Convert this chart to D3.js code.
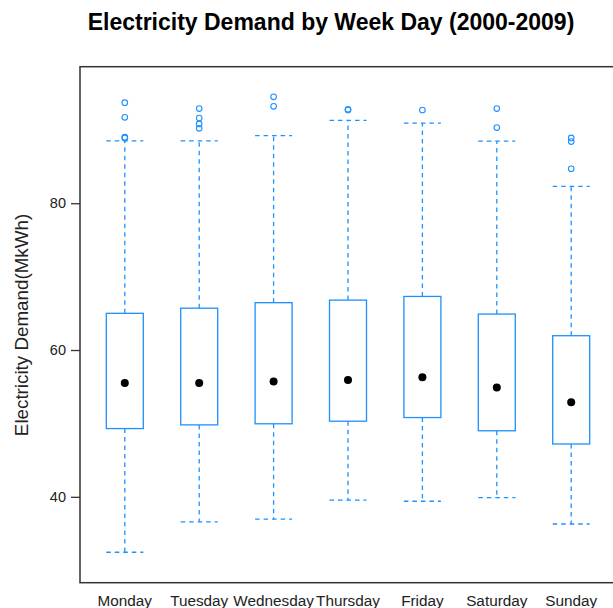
<!DOCTYPE html>
<html>
<head>
<meta charset="utf-8">
<script src="https://cdn.jsdelivr.net/npm/d3@7"></script>
<style>
  body { margin: 0; background: #fff; }
  svg { display: block; font-family: "Liberation Sans", Arial, sans-serif; }
</style>
</head>
<body>
<div id="main"></div>
<script>
var width = 613,
    height = 608;

// data
var days = ["Monday", "Tuesday", "Wednesday", "Thursday", "Friday", "Saturday", "Sunday"];
var whiskerLow  = [32.45, 36.6, 36.95, 39.55, 39.4, 39.9, 36.3];
var q1          = [49.3, 49.8, 49.95, 50.3, 50.8, 49.0, 47.2];
var q3          = [65.0, 65.7, 66.45, 66.8, 67.3, 64.9, 61.95];
var whiskerHigh = [88.5, 88.5, 89.2, 91.3, 90.9, 88.45, 82.3];
var means       = [55.5, 55.5, 55.7, 55.9, 56.3, 54.9, 52.9];
var outliers = [
  [93.7, 91.7, 89.0, 88.9],
  [92.9, 91.6, 90.8, 90.2],
  [94.5, 93.2],
  [92.8, 92.7],
  [92.7],
  [92.9, 90.3],
  [88.9, 88.4, 84.7]
];
var yTicks = [40, 60, 80];

var blue = "#1E90FF";

var plot = { left: 80, right: 616, top: 66.7, bottom: 582.7 };

var x = d3.scalePoint()
    .domain(days)
    .range([124.8, 571.2]);

var y = d3.scaleLinear()
    .domain([28.3, 98.6])
    .range([plot.bottom, plot.top]);

var boxW = 37;

var svg = d3.select("#main").append("svg")
    .attr("width", width)
    .attr("height", height);

// title
svg.append("text")
    .attr("x", 331)
    .attr("y", 30)
    .attr("text-anchor", "middle")
    .style("font-size", "23px")
    .style("font-weight", "bold")
    .text("Electricity Demand by Week Day (2000-2009)");

var rows = days.map(function(d, i) {
  return { day: d, lo: whiskerLow[i], q1: q1[i], q3: q3[i], hi: whiskerHigh[i], mean: means[i], out: outliers[i] };
});

var g = svg.selectAll("g.box")
    .data(rows)
    .enter()
    .append("g")
    .attr("class", "box");

// whiskers (dashed)
g.append("line")
    .attr("x1", function(d) { return x(d.day); })
    .attr("x2", function(d) { return x(d.day); })
    .attr("y1", function(d) { return y(d.q3); })
    .attr("y2", function(d) { return y(d.hi); });
g.append("line")
    .attr("x1", function(d) { return x(d.day); })
    .attr("x2", function(d) { return x(d.day); })
    .attr("y1", function(d) { return y(d.q1); })
    .attr("y2", function(d) { return y(d.lo); });
// staples
g.append("line")
    .attr("x1", function(d) { return x(d.day) - boxW / 2; })
    .attr("x2", function(d) { return x(d.day) + boxW / 2; })
    .attr("y1", function(d) { return y(d.hi); })
    .attr("y2", function(d) { return y(d.hi); });
g.append("line")
    .attr("x1", function(d) { return x(d.day) - boxW / 2; })
    .attr("x2", function(d) { return x(d.day) + boxW / 2; })
    .attr("y1", function(d) { return y(d.lo); })
    .attr("y2", function(d) { return y(d.lo); });
g.selectAll("line")
    .attr("stroke", blue)
    .attr("stroke-width", 1.3)
    .attr("stroke-dasharray", "4.5,4");

// boxes
g.append("rect")
    .attr("x", function(d) { return x(d.day) - boxW / 2; })
    .attr("y", function(d) { return y(d.q3); })
    .attr("width", boxW)
    .attr("height", function(d) { return y(d.q1) - y(d.q3); })
    .attr("fill", "#fff")
    .attr("stroke", blue)
    .attr("stroke-width", 1.3);

// mean points
g.append("circle")
    .attr("cx", function(d) { return x(d.day); })
    .attr("cy", function(d) { return y(d.mean); })
    .attr("r", 4)
    .attr("fill", "#000");

// outliers
g.selectAll("circle.out")
    .data(function(d) { return d.out.map(function(v) { return { day: d.day, v: v }; }); })
    .enter()
    .append("circle")
    .attr("class", "out")
    .attr("cx", function(d) { return x(d.day); })
    .attr("cy", function(d) { return y(d.v); })
    .attr("r", 2.8)
    .attr("fill", "none")
    .attr("stroke", blue)
    .attr("stroke-width", 1.1);

// frame
svg.append("rect")
    .attr("x", plot.left)
    .attr("y", plot.top)
    .attr("width", plot.right - plot.left)
    .attr("height", plot.bottom - plot.top)
    .attr("fill", "none")
    .attr("stroke", "#333")
    .attr("stroke-width", 1.5);

// y axis
var yAxis = svg.append("g")
    .attr("transform", "translate(" + plot.left + ",0)")
    .call(d3.axisLeft(y).tickValues(yTicks).tickSize(9).tickPadding(5));
yAxis.select(".domain").remove();
yAxis.selectAll("line").attr("stroke", "#333").attr("stroke-width", 1.3);
yAxis.selectAll("text")
    .style("font-size", "14.5px")
    .style("font-family", "Liberation Sans, Arial, sans-serif")
    .attr("fill", "#222");

// x labels
svg.selectAll("text.xlab")
    .data(days)
    .enter()
    .append("text")
    .attr("class", "xlab")
    .attr("x", function(d) { return x(d); })
    .attr("y", 606)
    .attr("text-anchor", "middle")
    .style("font-size", "15.3px")
    .attr("fill", "#222")
    .text(function(d) { return d; });

// y label
svg.append("text")
    .attr("transform", "translate(28,325)rotate(-90)")
    .attr("text-anchor", "middle")
    .style("font-size", "18.8px")
    .attr("fill", "#222")
    .text("Electricity Demand(MkWh)");
</script>
</body>
</html>
